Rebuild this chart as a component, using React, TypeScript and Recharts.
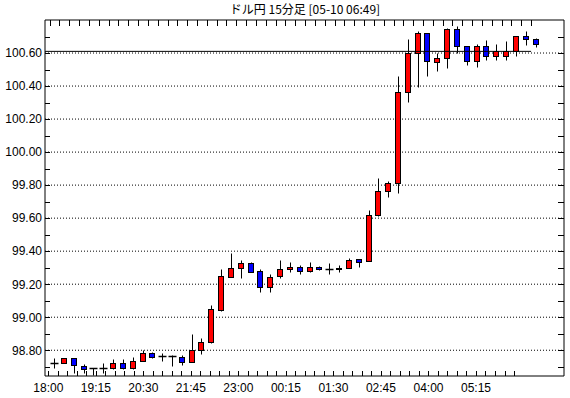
import React from 'react';
import { ComposedChart, Bar, XAxis, YAxis, CartesianGrid, ReferenceLine } from 'recharts';

const title = 'ドル円 15分足 [05-10 06:49]';

const times = [
  '18:00', '18:15', '18:30', '18:45', '19:00', '19:15', '19:30', '19:45',
  '20:00', '20:15', '20:30', '20:45', '21:00', '21:15', '21:30', '21:45',
  '22:00', '22:15', '22:30', '22:45', '23:00', '23:15', '23:30', '23:45',
  '00:00', '00:15', '00:30', '00:45', '01:00', '01:15', '01:30', '01:45',
  '02:00', '02:15', '02:30', '02:45', '03:00', '03:15', '03:30', '03:45',
  '04:00', '04:15', '04:30', '04:45', '05:00', '05:15', '05:30', '05:45',
  '06:00', '06:15',
];

const opens = [
  98.723, 98.725, 98.75, 98.707, 98.69, 98.694, 98.693, 98.725, 98.693, 98.737,
  98.786, 98.763, 98.763, 98.757, 98.726, 98.8, 98.848, 99.044, 99.244, 99.301,
  99.331, 99.277, 99.18, 99.248, 99.289, 99.307, 99.277, 99.307, 99.289, 99.289,
  99.301, 99.35, 99.34, 99.618, 99.764, 99.812, 100.364, 100.6, 100.721, 100.543,
  100.57, 100.745, 100.64, 100.549, 100.64, 100.58, 100.58, 100.61, 100.701, 100.687,
];
const highs = [
  98.756, 98.756, 98.754, 98.718, 98.692, 98.722, 98.749, 98.749, 98.758, 98.8,
  98.79, 98.782, 98.772, 98.771, 98.899, 98.873, 99.075, 99.29, 99.386, 99.349,
  99.337, 99.289, 99.259, 99.349, 99.337, 99.319, 99.337, 99.308, 99.331, 99.319,
  99.356, 99.352, 99.651, 99.845, 99.826, 100.463, 100.687, 100.735, 100.724, 100.6,
  100.75, 100.762, 100.641, 100.655, 100.681, 100.655, 100.671, 100.701, 100.731, 100.688,
];
const lows = [
  98.694, 98.72, 98.662, 98.66, 98.648, 98.66, 98.685, 98.689, 98.689, 98.735,
  98.756, 98.736, 98.706, 98.713, 98.726, 98.78, 98.843, 99.04, 99.244, 99.24,
  99.271, 99.154, 99.154, 99.24, 99.275, 99.259, 99.271, 99.288, 99.259, 99.271,
  99.301, 99.307, 99.338, 99.616, 99.731, 99.752, 100.301, 100.392, 100.459, 100.489,
  100.509, 100.6, 100.529, 100.513, 100.56, 100.56, 100.56, 100.58, 100.651, 100.636,
];
const closes = [
  98.723, 98.75, 98.708, 98.689, 98.69, 98.694, 98.725, 98.695, 98.737, 98.786,
  98.757, 98.763, 98.763, 98.726, 98.8, 98.848, 99.047, 99.247, 99.301, 99.331,
  99.276, 99.18, 99.246, 99.289, 99.307, 99.277, 99.307, 99.29, 99.289, 99.301,
  99.349, 99.333, 99.618, 99.764, 99.812, 100.364, 100.6, 100.721, 100.549, 100.57,
  100.745, 100.64, 100.549, 100.64, 100.58, 100.61, 100.61, 100.701, 100.687, 100.657,
];

const yTicks = [
  98.7, 98.8, 98.9, 99.0, 99.1, 99.2, 99.3, 99.4, 99.5, 99.6, 99.7,
  99.8, 99.9, 100.0, 100.1, 100.2, 100.3, 100.4, 100.5, 100.6, 100.7,
];
const gridValues = [98.8, 99.0, 99.2, 99.4, 99.6, 99.8, 100.0, 100.2, 100.4, 100.6];
const lastPrice = 100.61;

const yDomain = [98.644, 100.8];
const candleDomain = [-0.967, 51.85];
const timeDomain = [-0.347, 54.26];

const data = times.map((t, i) => ({
  i,
  t,
  open: opens[i],
  high: highs[i],
  low: lows[i],
  close: closes[i],
}));
const topTicks = data.map((d) => d.i - 0.5);
const slotTicks = data.map((d) => d.i);

const snap = (v: number) => Math.round(v) + 0.5;

const LeftTick = (props: any) => {
  const { x, y, payload } = props;
  const v = payload.value as number;
  const yy = snap(y);
  const major = Math.round(v * 100) % 20 === 0;
  return (
    <g>
      <line x1={x} x2={x + 5} y1={yy} y2={yy} stroke="#000" strokeWidth={1} />
      {major && (
        <text
          x={x - 3}
          y={y}
          dy="0.36em"
          textAnchor="end"
          fill="#000"
          fontSize={12}
          fontFamily='"Liberation Sans", Arial, sans-serif'
        >
          {v.toFixed(2)}
        </text>
      )}
    </g>
  );
};

const RightTick = (props: any) => {
  const { x, y } = props;
  const yy = snap(y);
  return <line x1={x} x2={x - 6} y1={yy} y2={yy} stroke="#000" strokeWidth={1} />;
};

const TopTick = (props: any) => {
  const { x, y } = props;
  const xx = snap(x);
  return <line x1={xx} x2={xx} y1={y} y2={y + 6} stroke="#000" strokeWidth={1} />;
};

const BottomTick = (props: any) => {
  const { x, y, payload } = props;
  const j = payload.value as number;
  const xx = snap(x);
  return (
    <g>
      <line x1={xx} x2={xx} y1={y} y2={y - 5} stroke="#000" strokeWidth={1} />
      {j % 5 === 0 && (
        <text
          x={x}
          y={y + 16}
          textAnchor="middle"
          fill="#000"
          fontSize={12}
          fontFamily='"Liberation Sans Narrow", "Liberation Sans", sans-serif'
        >
          {times[j]}
        </text>
      )}
    </g>
  );
};

const Candle = (props: any) => {
  const { x, y, width, height, payload } = props;
  if (!payload) return null;
  const { open, high, low, close } = payload;
  const cx = Math.round(x + width / 2) + 0.5;
  const py = (v: number) => (high === low ? y : y + ((high - v) / (high - low)) * height);
  const top = snap(py(Math.max(open, close)));
  const bot = snap(py(Math.min(open, close)));
  const wTop = snap(py(high));
  const wBot = snap(py(low));
  const up = close > open;
  const down = close < open;
  return (
    <g>
      <line x1={cx} x2={cx} y1={wTop} y2={wBot} stroke="#000" strokeWidth={1} />
      {up || down ? (
        <rect
          x={cx - 3}
          y={top}
          width={5}
          height={Math.max(bot - top, 1)}
          fill={up ? '#ff0000' : '#0000ff'}
          stroke="#000"
          strokeWidth={1}
        />
      ) : (
        <line x1={cx - 4} x2={cx + 4} y1={top} y2={top} stroke="#000" strokeWidth={1.5} />
      )}
    </g>
  );
};

export default function App() {
  return (
    <div style={{ position: 'absolute', left: 0, top: 0, width: 570, height: 398, background: '#fff' }}>
      <div
        style={{
          position: 'absolute',
          left: 305,
          top: 1,
          transform: 'translateX(-50%)',
          whiteSpace: 'nowrap',
          fontFamily: '"Noto Sans CJK JP", sans-serif',
          fontSize: 12,
          lineHeight: '16px',
          color: '#000',
        }}
      >
        {title}
      </div>
      <ComposedChart width={570} height={398} data={data} margin={{ top: 0, right: 0, bottom: 0, left: 0 }}>
        <CartesianGrid
          xAxisId="c"
          yAxisId="left"
          vertical={false}
          horizontalValues={gridValues}
          stroke="#000"
          strokeDasharray="1 2"
        />
        <XAxis
          xAxisId="c"
          orientation="top"
          type="number"
          dataKey="i"
          domain={candleDomain}
          allowDataOverflow
          ticks={topTicks}
          interval={0}
          tickSize={0}
          tickMargin={0}
          tickLine={false}
          tick={<TopTick />}
          height={20}
          stroke="#000"
        />
        <XAxis
          xAxisId="time"
          orientation="bottom"
          type="number"
          dataKey="i"
          domain={timeDomain}
          allowDataOverflow
          ticks={slotTicks}
          interval={0}
          tickSize={0}
          tickMargin={0}
          tickLine={false}
          tick={<BottomTick />}
          height={22}
          stroke="#000"
        />
        <YAxis
          yAxisId="left"
          orientation="left"
          type="number"
          domain={yDomain}
          allowDataOverflow
          ticks={yTicks}
          interval={0}
          width={45}
          tickSize={0}
          tickMargin={0}
          tickLine={false}
          tick={<LeftTick />}
          stroke="#000"
        />
        <YAxis
          yAxisId="right"
          orientation="right"
          type="number"
          domain={yDomain}
          allowDataOverflow
          ticks={yTicks}
          interval={0}
          width={6}
          tickSize={0}
          tickMargin={0}
          tickLine={false}
          tick={<RightTick />}
          stroke="#000"
        />
        <Bar
          xAxisId="c"
          yAxisId="left"
          dataKey={(d: any) => [d.low, d.high]}
          shape={Candle}
          barSize={7}
          isAnimationActive={false}
        />
        <ReferenceLine
          xAxisId="c"
          yAxisId="left"
          segment={[
            { x: candleDomain[0], y: lastPrice },
            { x: data.length - 1.5, y: lastPrice },
          ]}
          stroke="#000"
          strokeWidth={1}
          ifOverflow="visible"
        />
      </ComposedChart>
    </div>
  );
}
